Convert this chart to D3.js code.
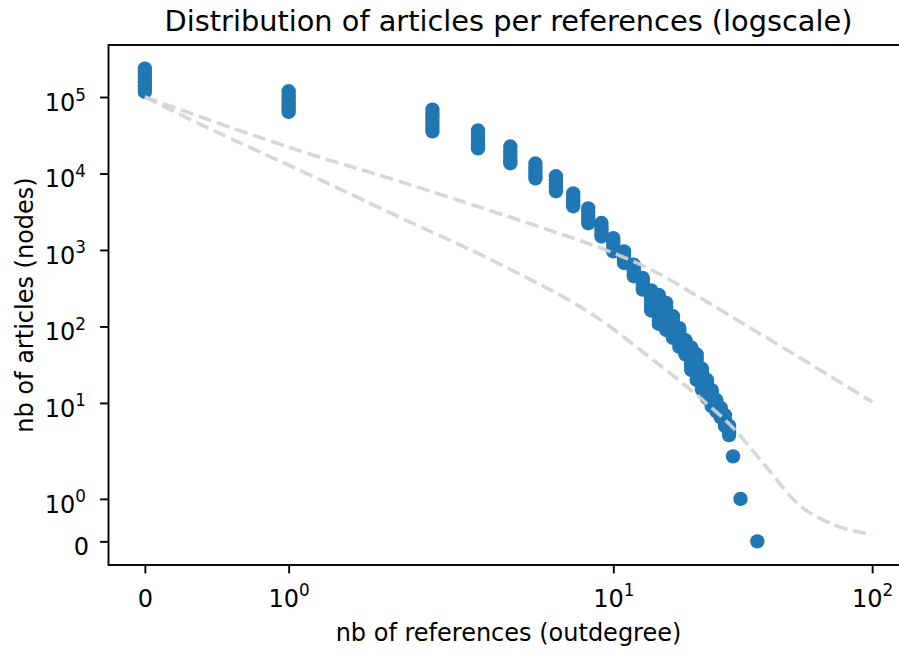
<!DOCTYPE html>
<html>
<head>
<meta charset="utf-8">
<script src="https://cdn.jsdelivr.net/npm/d3@7"></script>
<style>
  html, body { margin: 0; padding: 0; background: #ffffff; }
  svg { display: block; font-family: "DejaVu Sans", sans-serif; }
</style>
</head>
<body>
<svg id="chart" width="899" height="654"></svg>
<script>
// ---- data -------------------------------------------------------------
// number of references of an article (outdegree)
const outdegree = [0, 1, 2, 3, 4, 5, 6, 7, 8, 9, 10, 11, 12, 13, 14, 15, 16, 17,
                   18, 19, 20, 21, 22, 23, 24, 25, 26, 27, 28, 29, 31, 36];
// number of articles having that outdegree (one value per sample)
const articleCounts = [
  [235000, 212000, 191000, 172000, 155000, 140000, 127000, 117000],
  [119000, 107000, 96000, 86500, 78000, 70500, 64000],
  [68500, 61500, 55500, 50000, 45000, 40500, 35500],
  [36500, 32800, 29500, 26500, 23800, 21300],
  [22500, 20200, 18200, 16400, 14800, 13600],
  [13500, 12100, 10900, 9800, 8650],
  [9200, 8250, 7400, 6600, 5860],
  [5500, 4950, 4450, 4050, 3730],
  [3500, 3150, 2800, 2500, 2240],
  [2250, 2000, 1800, 1630, 1500],
  [1430, 1290, 1160, 1050, 960],
  [960, 860, 780, 720, 675],
  [640, 580, 525, 485, 453],
  [430, 390, 350, 320, 303],
  [296, 265, 238, 214, 193, 175, 162],
  [258, 230, 205, 183, 163, 146, 130, 118, 108],
  [203, 180, 160, 142, 126, 112, 100, 90],
  [136, 121, 107, 95, 85, 77, 71],
  [95, 85, 76, 68, 61, 54],
  [66, 59, 53, 48, 43],
  [53, 47, 42, 37, 33, 30, 27],
  [43, 38, 33.5, 29.5, 26, 23, 20],
  [28, 25, 22, 19.5, 17, 15],
  [20, 17.8, 15.8, 14, 12.7, 11.6],
  [14.7, 13.2, 11.8, 10.5, 9.1],
  [10.9, 9.8, 8.8, 7.8],
  [8.6, 7.8, 7.1, 6.5],
  [6.9, 6.2, 5.6, 5],
  [5, 4.5, 4.1, 3.8],
  [2],
  [1],
  [0]
];

// reference curves (power-law style fits)
const fitUpperX = [0, 0.39, 1.08, 1.78, 3.64, 6.21, 8.85, 14.2, 21.5, 33.5, 52.2, 100];
const fitUpperY = [100000, 54800, 19750, 7790, 2980, 1637, 1075, 539, 240, 97.4, 39.6, 10.3];
const fitLowerX = [0, 0.39, 1.08, 1.78, 3.64, 8.85, 13.8, 21.5, 28.8, 39, 52.2, 71.3, 100];
const fitLowerY = [100000, 43650, 10960, 2630, 653, 124, 39.6, 11.9, 4.84, 1.75, 0.86, 0.39, 0.157];

// tick positions and their labels ([mantissa, exponent])
const xTickValues = [0, 1, 10, 100];
const xTickLabels = [["0", ""], ["10", "0"], ["10", "1"], ["10", "2"]];
const yTickValues = [0, 1, 10, 100, 1000, 10000, 100000];
const yTickLabels = [["0", ""], ["10", "0"], ["10", "1"], ["10", "2"],
                     ["10", "3"], ["10", "4"], ["10", "5"]];

const titleText = "Distribution of articles per references (logscale)";
const xLabelText = "nb of references (outdegree)";
const yLabelText = "nb of articles (nodes)";

// ---- symmetric log transform (linear around zero, log beyond) ---------
const LINTHRESH = 2;
const LINSCALE_ADJ = 1 / (1 - 1 / 10);
function symlog(v) {
  const a = Math.abs(v);
  if (a <= LINTHRESH) return v * LINSCALE_ADJ;
  return Math.sign(v) * LINTHRESH * (LINSCALE_ADJ + Math.log10(a / LINTHRESH));
}

// ---- layout -----------------------------------------------------------
const plot = { left: 108.5, right: 908.5, top: 45, bottom: 565 };
const FONT = 24;
const svg = d3.select("#chart");

const points = [];
outdegree.forEach((x, i) => articleCounts[i].forEach(y => points.push({ x, y })));

const allX = points.map(p => p.x).concat(fitUpperX, fitLowerX).map(symlog);
const allY = points.map(p => p.y).concat(fitUpperY, fitLowerY).map(symlog);
function padded(ext) {
  const m = (ext[1] - ext[0]) * 0.05;
  return [ext[0] - m, ext[1] + m];
}
const xLin = d3.scaleLinear().domain(padded(d3.extent(allX))).range([plot.left, plot.right]);
const yLin = d3.scaleLinear().domain(padded(d3.extent(allY))).range([plot.bottom, plot.top]);
const sx = v => xLin(symlog(v));
const sy = v => yLin(symlog(v));

// ---- scatter ----------------------------------------------------------
svg.append("g")
  .selectAll("circle")
  .data(points)
  .join("circle")
  .attr("cx", d => sx(d.x))
  .attr("cy", d => sy(d.y))
  .attr("r", 7.2)
  .attr("fill", "#1f77b4");

// ---- dashed reference curves -----------------------------------------
const line = d3.line()
  .x(d => sx(d[0]))
  .y(d => sy(d[1]))
  .curve(d3.curveMonotoneX);

[[fitUpperX, fitUpperY], [fitLowerX, fitLowerY]].forEach(([xs, ys]) => {
  svg.append("path")
    .datum(xs.map((x, i) => [x, ys[i]]))
    .attr("d", line)
    .attr("fill", "none")
    .attr("stroke", "#d3d3d3")
    .attr("stroke-opacity", 0.9)
    .attr("stroke-width", 3.6)
    .attr("stroke-dasharray", "13.3,5.8");
});

// ---- axes -------------------------------------------------------------
const TICK = 8.4;
const xAxis = d3.axisBottom(xLin)
  .tickValues(xTickValues.map(symlog))
  .tickSize(TICK)
  .tickFormat("");
const yAxis = d3.axisLeft(yLin)
  .tickValues(yTickValues.map(symlog))
  .tickSize(TICK)
  .tickFormat("");

const gx = svg.append("g").attr("transform", `translate(0,${plot.bottom})`).call(xAxis);
const gy = svg.append("g").attr("transform", `translate(${plot.left},0)`).call(yAxis);
[gx, gy].forEach(g => {
  g.select(".domain").remove();
  g.selectAll(".tick line").attr("stroke", "#000").attr("stroke-width", 1.9);
});

function powerLabel(sel, parts) {
  sel.append("tspan").text(parts[0]);
  if (parts[1] !== "") {
    sel.append("tspan").attr("dy", -10.5).attr("font-size", (FONT * 0.7) + "px").text(parts[1]);
  }
}

gx.selectAll(".tick").each(function (d, i) {
  const t = d3.select(this).append("text")
    .attr("y", 41.5)
    .attr("text-anchor", "middle")
    .attr("fill", "#000")
    .attr("font-size", FONT + "px")
    .attr("font-family", "DejaVu Sans, sans-serif");
  powerLabel(t, xTickLabels[i]);
});

gy.selectAll(".tick").each(function (d, i) {
  const hasExp = yTickLabels[i][1] !== "";
  const t = d3.select(this).append("text")
    .attr("x", hasExp ? -22.5 : -19.5)
    .attr("y", 13.5)
    .attr("text-anchor", "end")
    .attr("fill", "#000")
    .attr("font-size", FONT + "px")
    .attr("font-family", "DejaVu Sans, sans-serif");
  powerLabel(t, yTickLabels[i]);
});

// frame (all four spines)
svg.append("rect")
  .attr("x", plot.left)
  .attr("y", plot.top)
  .attr("width", plot.right - plot.left)
  .attr("height", plot.bottom - plot.top)
  .attr("fill", "none")
  .attr("stroke", "#000")
  .attr("stroke-width", 1.9);

// ---- titles -----------------------------------------------------------
const cx = (plot.left + plot.right) / 2;
svg.append("text")
  .attr("x", cx).attr("y", 31)
  .attr("text-anchor", "middle")
  .attr("font-size", (FONT * 1.2) + "px")
  .attr("fill", "#000")
  .text(titleText);

svg.append("text")
  .attr("x", cx).attr("y", 641)
  .attr("text-anchor", "middle")
  .attr("font-size", FONT + "px")
  .attr("fill", "#000")
  .text(xLabelText);

svg.append("text")
  .attr("transform", `translate(33,${(plot.top + plot.bottom) / 2}) rotate(-90)`)
  .attr("text-anchor", "middle")
  .attr("font-size", FONT + "px")
  .attr("fill", "#000")
  .text(yLabelText);
</script>
</body>
</html>
